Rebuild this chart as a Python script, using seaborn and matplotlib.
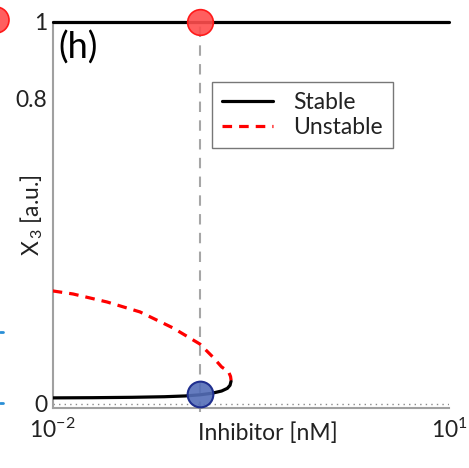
import numpy as np
import pandas as pd
import seaborn as sns
import matplotlib
matplotlib.use("Agg")
import matplotlib.pyplot as plt
from matplotlib.lines import Line2D
from matplotlib.patches import Ellipse

# ---- data ----
upper_stable_x = [0.01, 10.0]
upper_stable_y = [1.0, 1.0]

lower_stable_x = [0.01, 0.02, 0.04, 0.07, 0.1, 0.13, 0.16, 0.19, 0.21, 0.22, 0.224]
lower_stable_y = [0.016, 0.0165, 0.0175, 0.019, 0.021, 0.024, 0.028, 0.034, 0.041, 0.049, 0.06]

unstable_x = [0.01, 0.01425, 0.0258, 0.0458, 0.0815, 0.13, 0.163, 0.19, 0.214, 0.222, 0.224]
unstable_y = [0.296, 0.288, 0.267, 0.241, 0.199, 0.157, 0.123, 0.097, 0.085, 0.072, 0.062]

inhibitor_marker_x = 0.13
marker_high_y = 1.0
marker_low_y = 0.027

y_ticks = [0, 0.2, 0.4, 0.6, 0.8, 1.0]
y_ticklabels = ["0", "", "", "", "0.8", "1"]
x_ticks = [1e-2, 1e-1, 1e0, 1e1]
x_ticklabels = [r"$10^{-2}$", "", "", r"$10^{1}$"]

legend_labels = ["Stable", "Unstable"]
panel_label = "(h)"

sns.set_style("white")
plt.rcParams["font.family"] = ["Lato", "DejaVu Sans"]
plt.rcParams["mathtext.fontset"] = "custom"
plt.rcParams["mathtext.rm"] = "Lato"
plt.rcParams["mathtext.it"] = "Lato:italic"

fig = plt.figure(figsize=(4.69, 4.68), dpi=100)
ax = fig.add_axes([52.7 / 469, 60 / 468, 396.3 / 469, 386 / 468])

gray = "#a6a6a6"
# dotted zero line
ax.axhline(0, color="#8a8a8a", lw=1.0, ls=(0, (1, 3)), zorder=1)
# vertical dashed marker line
ax.plot([inhibitor_marker_x, inhibitor_marker_x], [-0.02, 1.0], color=gray,
        lw=1.5, ls=(0, (5, 4)), zorder=1, clip_on=False)

df_up = pd.DataFrame({"x": upper_stable_x, "y": upper_stable_y})
df_lo = pd.DataFrame({"x": lower_stable_x, "y": lower_stable_y})
df_un = pd.DataFrame({"x": unstable_x, "y": unstable_y})

sns.lineplot(data=df_up, x="x", y="y", ax=ax, color="black", lw=2.3,
             estimator=None, clip_on=False, zorder=3)
sns.lineplot(data=df_lo, x="x", y="y", ax=ax, color="black", lw=2.3,
             estimator=None, zorder=3)
sns.lineplot(data=df_un, x="x", y="y", ax=ax, color="red", lw=2.3,
             estimator=None, dashes=False, zorder=3)
ax.lines[-1].set_linestyle((0, (3, 2.2)))

ax.plot([inhibitor_marker_x], [marker_high_y], marker="o", ms=18.5,
        mfc=(1, 0.3, 0.3, 0.9), mec=(1, 0.1, 0.1), mew=1.2, clip_on=False, zorder=5)
ax.plot([inhibitor_marker_x], [marker_low_y], marker="o", ms=18.5,
        mfc=(0.33, 0.43, 0.72, 0.9), mec="#1f2f8f", mew=1.5, clip_on=False, zorder=5)

ax.set_xscale("log")
ax.set_xlim(1e-2, 1e1)
ax.set_ylim(-0.0105, 1.0)
ax.set_xticks(x_ticks)
ax.set_xticklabels(x_ticklabels)
ax.set_yticks(y_ticks)
ax.set_yticklabels(y_ticklabels)

for s in ["top", "right"]:
    ax.spines[s].set_visible(False)
for s in ["left", "bottom"]:
    ax.spines[s].set_color("#a0a0a0")
    ax.spines[s].set_linewidth(1.5)

ax.tick_params(axis="both", which="both", direction="in", colors="#a0a0a0",
               labelcolor="#222222", labelsize=16.5)
ax.tick_params(axis="y", which="major", length=5, width=1, pad=4)
ax.tick_params(axis="x", which="major", length=5, width=1, pad=7)
ax.tick_params(axis="x", which="minor", length=3, width=0.8)

ax.set_xlabel("Inhibitor [nM]", fontsize=16.5, color="#222222")
ax.xaxis.set_label_coords((268 - 52.7) / 396.3, (408 - 433) / 386)
ax.xaxis.label.set_va("center")
ax.set_ylabel(r"X$_{\,3}$ [a.u.]", fontsize=16.5, color="#222222")
ax.yaxis.label.set_va("center")
ax.yaxis.set_label_coords((32 - 52.7) / 396.3, 0.5)

ax.text(0.015, 0.935, panel_label, transform=ax.transAxes, fontsize=26,
        color="black", va="center", ha="left")

handles = [Line2D([], [], color="black", lw=2.3),
           Line2D([], [], color="red", lw=2.3, ls=(0, (3, 2.2)))]
leg = ax.legend(handles, legend_labels, loc="upper left",
                bbox_to_anchor=((212 - 52.7) / 396.3, (408 - 82) / 386),
                fontsize=16.5, frameon=True, fancybox=False, handlelength=2.2,
                handletextpad=0.9, labelspacing=0.15, borderpad=0.45,
                borderaxespad=0)
leg.get_frame().set_edgecolor("#555555")
leg.get_frame().set_linewidth(1.0)
for t in leg.get_texts():
    t.set_color("#222222")

# fragments of neighbouring panel at the left edge
fig.add_artist(Ellipse((-4 / 469, 1 - 20 / 468), 26 / 469, 26 / 468,
                       transform=fig.transFigure, fc=(1, 0.3, 0.3, 0.9),
                       ec=(1, 0.1, 0.1), lw=1.2))
for yy in [332, 403]:
    fig.add_artist(Line2D([0, 2.5 / 469], [1 - yy / 468] * 2, transform=fig.transFigure,
                          color="#2a8fd6", lw=2))

fig.savefig("out.png", dpi=100)
